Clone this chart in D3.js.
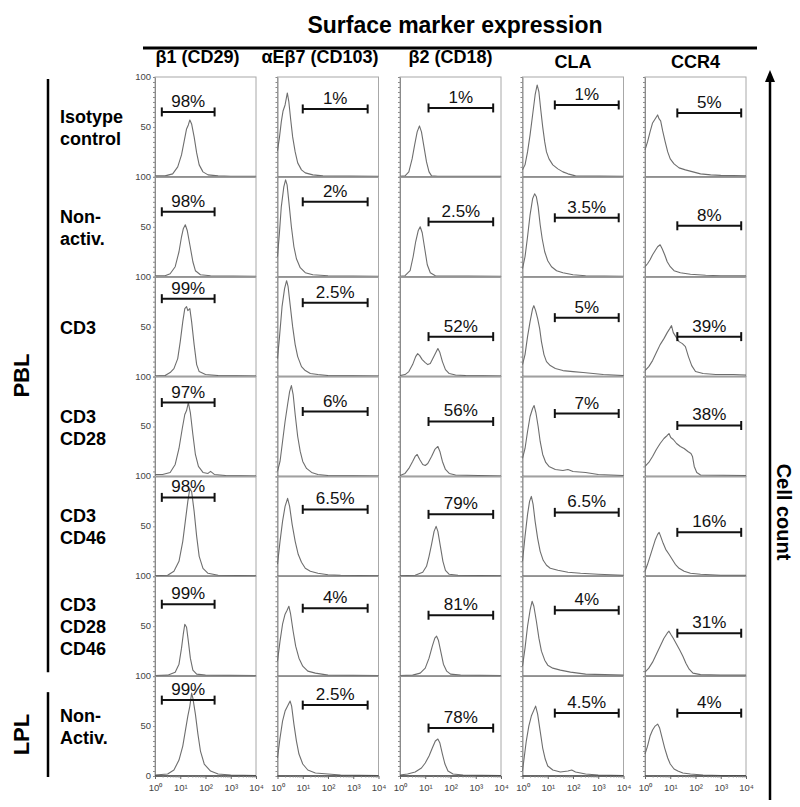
<!DOCTYPE html>
<html lang="en">
<head>
<meta charset="UTF-8">
<title>Surface marker expression</title>
<script src="https://cdn.jsdelivr.net/npm/d3@7"></script>
<style>
  body { margin: 0; background: #fff; }
  svg { font-family: "Liberation Sans", Arial, sans-serif; }
</style>
</head>
<body>
<script>
var width = 800, height = 807;

// column headers and row labels
var markers = ["β1 (CD29)", "αEβ7 (CD103)", "β2 (CD18)", "CLA", "CCR4"];
var conditions = [["Isotype", "control"], ["Non-", "activ."], ["CD3"], ["CD3", "CD28"],
                  ["CD3", "CD46"], ["CD3", "CD28", "CD46"], ["Non-", "Activ."]];
var groups = [{ name: "PBL", first: 0, last: 5 }, { name: "LPL", first: 6, last: 6 }];

var xTickLabels = ["10⁰", "10¹", "10²", "10³", "10⁴"];
var yTickLabels = [100, 50];

// percent positive in the gate, per column (rows top to bottom)
var pctB1   = ["98%", "98%", "99%", "97%", "98%", "99%", "99%"];
var pctAE   = ["1%", "2%", "2.5%", "6%", "6.5%", "4%", "2.5%"];
var pctB2   = ["1%", "2.5%", "52%", "56%", "79%", "81%", "78%"];
var pctCLA  = ["1%", "3.5%", "5%", "7%", "6.5%", "4%", "4.5%"];
var pctCCR4 = ["5%", "8%", "39%", "38%", "16%", "31%", "4%"];

// gate bar height (cell count units) per column
var gateB1   = [65, 65, 78, 74, 79, 72, 76];
var gateAE   = [68, 75, 74, 65, 67, 68, 71];
var gateB2   = [69, 55, 40, 55, 62, 61, 48];
var gateCLA  = [72, 59, 59, 63, 64, 66, 63];
var gateCCR4 = [64, 51, 40, 51, 44, 43, 63];

// gate range in log10 decades, per column
var gateRange = [[0.27, 2.36], [1.0, 3.57], [1.13, 3.69], [1.28, 3.81], [1.28, 3.81]];

// histograms: [log10 intensity, cell count]
var histB1 = [
  [[0,1],[0.4,1],[0.7,3],[0.9,10],[1.05,22],[1.15,35],[1.25,48],[1.32,52],[1.38,57],[1.45,53],[1.55,40],[1.65,24],[1.75,12],[1.9,5],[2.1,2],[2.5,1],[3,0.5],[4,0.5]],
  [[0,1],[0.4,1],[0.6,3],[0.8,10],[0.95,25],[1.05,40],[1.12,48],[1.2,52],[1.28,46],[1.38,32],[1.5,15],[1.6,6],[1.8,2],[2.2,1],[4,0.5]],
  [[0,0.5],[0.4,1],[0.6,4],[0.75,8],[0.9,18],[1.0,35],[1.1,55],[1.18,68],[1.25,70],[1.3,66],[1.38,68],[1.45,55],[1.55,32],[1.65,12],[1.75,5],[2.0,2],[2.5,1],[4,0.5]],
  [[0,2],[0.3,2],[0.6,4],[0.8,12],[0.95,28],[1.08,48],[1.18,62],[1.25,66],[1.32,74],[1.4,64],[1.5,42],[1.6,22],[1.72,10],[1.9,4],[2.1,3],[2.2,5],[2.35,2],[2.8,1],[4,0.5]],
  [[0,0.5],[0.5,1],[0.75,5],[0.95,15],[1.1,35],[1.2,55],[1.3,75],[1.38,88],[1.45,85],[1.55,65],[1.65,40],[1.75,20],[1.9,8],[2.1,3],[2.5,1],[4,0.5]],
  [[0,0.5],[0.5,1],[0.8,4],[0.95,12],[1.05,28],[1.12,42],[1.18,52],[1.25,49],[1.32,35],[1.4,18],[1.5,6],[1.65,2],[2,1],[4,0.5]],
  [[0,1],[0.5,2],[0.75,6],[0.95,16],[1.1,30],[1.2,45],[1.3,60],[1.38,70],[1.45,83],[1.5,78],[1.6,62],[1.7,42],[1.8,25],[1.95,12],[2.2,5],[2.5,2],[3,1],[4,0.5]]
];
var histAE = [
  [[0,26],[0.08,40],[0.15,55],[0.22,66],[0.3,72],[0.39,84],[0.45,75],[0.52,58],[0.6,40],[0.7,25],[0.8,14],[0.95,7],[1.1,4],[1.4,2],[1.8,1],[4,0.5]],
  [[0,20],[0.08,45],[0.15,70],[0.25,90],[0.32,97],[0.38,92],[0.45,75],[0.55,50],[0.65,30],[0.75,18],[0.9,9],[1.1,4],[1.4,2],[2,1],[4,0.5]],
  [[0,18],[0.08,40],[0.18,70],[0.28,88],[0.36,96],[0.42,90],[0.5,72],[0.6,50],[0.7,32],[0.8,20],[0.95,10],[1.1,6],[1.3,3],[1.6,2],[2,1],[4,0.5]],
  [[0,5],[0.1,15],[0.2,35],[0.3,55],[0.4,72],[0.48,85],[0.55,91],[0.62,82],[0.7,62],[0.8,40],[0.9,25],[1.0,15],[1.15,8],[1.35,4],[1.6,2],[2,1],[4,0.5]],
  [[0,12],[0.1,35],[0.2,55],[0.3,70],[0.4,78],[0.48,70],[0.58,52],[0.7,35],[0.82,22],[0.95,14],[1.1,8],[1.3,5],[1.6,3],[2,1.5],[2.5,1],[4,0.5]],
  [[0,15],[0.1,35],[0.2,52],[0.3,62],[0.38,66],[0.45,70],[0.52,62],[0.62,45],[0.72,30],[0.85,18],[1.0,10],[1.2,5],[1.5,3],[2,1],[4,0.5]],
  [[0,18],[0.1,38],[0.2,55],[0.3,65],[0.4,70],[0.5,75],[0.56,70],[0.65,52],[0.75,35],[0.85,22],[1.0,12],[1.2,6],[1.5,3],[2,2],[2.5,1],[4,0.5]]
];
var histB2 = [
  [[0,0.5],[0.2,1],[0.35,5],[0.48,18],[0.58,32],[0.68,45],[0.77,51],[0.85,45],[0.95,30],[1.05,15],[1.15,5],[1.25,1],[1.5,0.5],[4,0.5]],
  [[0,0.5],[0.2,1],[0.4,6],[0.52,20],[0.62,35],[0.72,46],[0.8,50],[0.88,44],[0.98,28],[1.08,12],[1.2,4],[1.4,1],[4,0.5]],
  [[0,1],[0.2,2],[0.35,5],[0.5,12],[0.62,20],[0.7,23],[0.78,21],[0.88,17],[1.0,14],[1.1,12],[1.2,13],[1.3,18],[1.42,24],[1.5,28],[1.58,24],[1.68,15],[1.8,7],[1.95,3],[2.2,1.5],[2.6,1],[4,0.5]],
  [[0,1],[0.2,3],[0.35,8],[0.5,15],[0.6,20],[0.68,22],[0.78,17],[0.9,12],[1.0,11],[1.1,13],[1.25,20],[1.38,27],[1.5,30],[1.58,25],[1.68,15],[1.8,7],[1.95,3],[2.2,1.5],[4,0.5]],
  [[0,0.5],[0.6,1],[0.9,4],[1.05,10],[1.15,20],[1.25,32],[1.35,45],[1.43,50],[1.5,45],[1.6,30],[1.7,15],[1.8,6],[1.95,2],[2.3,1],[4,0.5]],
  [[0,0.5],[0.5,1],[0.8,3],[1.0,8],[1.15,18],[1.28,30],[1.38,38],[1.45,40],[1.52,36],[1.62,24],[1.72,12],[1.85,5],[2.0,2],[2.4,1],[4,0.5]],
  [[0,1],[0.3,2],[0.6,4],[0.85,8],[1.0,13],[1.15,20],[1.28,28],[1.4,35],[1.5,37],[1.58,33],[1.68,22],[1.78,12],[1.9,5],[2.1,2],[2.5,1],[4,0.5]]
];
var histCLA = [
  [[0,7],[0.1,12],[0.2,25],[0.3,42],[0.4,62],[0.5,82],[0.58,92],[0.65,85],[0.72,68],[0.8,50],[0.88,35],[0.95,25],[1.05,18],[1.2,12],[1.4,8],[1.6,5],[1.8,3],[2.1,1],[4,0.5]],
  [[0,8],[0.1,20],[0.2,40],[0.3,62],[0.4,78],[0.48,83],[0.55,80],[0.62,70],[0.7,52],[0.78,38],[0.88,25],[1.0,16],[1.15,10],[1.35,6],[1.6,4],[2.0,2],[2.5,1],[4,0.5]],
  [[0,12],[0.1,22],[0.2,40],[0.3,55],[0.4,68],[0.45,71],[0.52,66],[0.6,58],[0.68,48],[0.75,35],[0.85,22],[0.95,15],[1.1,11],[1.3,8],[1.6,6],[2.0,5],[2.4,4],[2.8,3],[3.2,2],[4,1]],
  [[0,18],[0.1,28],[0.2,45],[0.3,60],[0.4,68],[0.46,71],[0.53,64],[0.62,50],[0.7,35],[0.8,22],[0.92,14],[1.05,10],[1.3,7],[1.6,6],[1.8,7],[2.0,5],[2.5,4],[3,2],[4,1]],
  [[0,15],[0.1,40],[0.2,62],[0.28,75],[0.35,80],[0.42,72],[0.5,55],[0.6,38],[0.7,25],[0.82,16],[0.95,11],[1.1,8],[1.4,6],[1.8,4],[2.3,3],[3,2],[4,1]],
  [[0,10],[0.1,28],[0.2,50],[0.3,66],[0.38,75],[0.45,70],[0.55,55],[0.65,38],[0.75,25],[0.88,16],[1.0,11],[1.2,8],[1.5,6],[1.9,4],[2.5,2],[4,1]],
  [[0,5],[0.05,15],[0.15,35],[0.25,50],[0.35,60],[0.45,66],[0.52,70],[0.6,62],[0.7,45],[0.8,28],[0.9,17],[1.0,10],[1.2,6],[1.5,4],[1.8,5],[1.95,6],[2.1,4],[2.5,2],[3,1],[4,0.5]]
];
var histCCR4 = [
  [[0,27],[0.1,35],[0.2,45],[0.3,54],[0.4,58],[0.5,62],[0.56,58],[0.62,56],[0.7,46],[0.8,35],[0.9,25],[1.0,18],[1.15,13],[1.35,9],[1.6,7],[1.9,5],[2.2,3],[2.6,2],[3,1.5],[4,1]],
  [[0,10],[0.1,13],[0.2,17],[0.3,22],[0.4,26],[0.5,30],[0.6,32],[0.68,28],[0.78,22],[0.88,15],[1.0,10],[1.15,6],[1.4,4],[1.8,2.5],[2.4,1.5],[3,1],[4,1]],
  [[0,6],[0.15,10],[0.3,16],[0.45,24],[0.6,32],[0.75,38],[0.88,44],[0.98,48],[1.05,51],[1.12,44],[1.22,40],[1.35,35],[1.48,33],[1.6,30],[1.72,20],[1.85,11],[2.0,5],[2.3,3],[2.8,2],[3.5,2],[4,1.5]],
  [[0,10],[0.15,14],[0.3,20],[0.45,27],[0.6,33],[0.75,38],[0.88,41],[0.95,43],[1.02,39],[1.12,37],[1.25,33],[1.4,30],[1.55,28],[1.7,25],[1.82,23],[1.88,20],[1.95,10],[2.05,4],[2.2,1.5],[4,1]],
  [[0,5],[0.1,12],[0.2,20],[0.3,28],[0.4,36],[0.5,42],[0.56,44],[0.62,40],[0.72,33],[0.82,27],[0.95,22],[1.05,18],[1.2,12],[1.35,8],[1.55,5],[1.8,3],[2.2,2],[3,1],[4,1]],
  [[0,4],[0.15,8],[0.3,14],[0.45,22],[0.6,30],[0.75,38],[0.88,43],[0.95,45],[1.02,42],[1.12,38],[1.25,32],[1.38,26],[1.5,20],[1.62,13],[1.75,7],[1.9,3],[2.2,1.5],[3,1],[4,1]],
  [[0,22],[0.1,30],[0.2,40],[0.3,46],[0.4,50],[0.5,52],[0.58,48],[0.68,38],[0.78,28],[0.9,18],[1.0,12],[1.15,7],[1.3,5],[1.5,3],[1.8,2],[2.3,1],[3,0.5],[4,0.5]]
];

var hists = [histB1, histAE, histB2, histCLA, histCCR4];
var pcts = [pctB1, pctAE, pctB2, pctCLA, pctCCR4];
var gates = [gateB1, gateAE, gateB2, gateCLA, gateCCR4];

var svg = d3.select("body").append("svg")
  .attr("width", width)
  .attr("height", height);

var colScale = d3.scaleBand().domain(d3.range(markers.length)).range([155, 746]).paddingInner(0.1755);
var rowScale = d3.scaleBand().domain(d3.range(conditions.length)).range([77, 776]);
var pw = colScale.bandwidth(), ph = rowScale.bandwidth();

var x = d3.scaleLinear().domain([0, 4]).range([0, pw]);
var y = d3.scaleLinear().domain([0, 100]).range([ph, 0]);
var line = d3.line().x(function(d) { return x(d[0]); }).y(function(d) { return y(d[1]); });

// one entry per panel
var panels = [];
markers.forEach(function(m, c) {
  conditions.forEach(function(cond, r) {
    panels.push({ c: c, r: r, hist: hists[c][r], pct: pcts[c][r], gate: gates[c][r], range: gateRange[c] });
  });
});

var panel = svg.selectAll("g.panel")
  .data(panels)
  .enter()
  .append("g")
  .attr("class", "panel")
  .attr("transform", function(d) { return "translate(" + colScale(d.c) + "," + rowScale(d.r) + ")"; });

panel.append("rect")
  .attr("width", pw)
  .attr("height", ph)
  .attr("fill", "none")
  .attr("stroke", "#a8a8a8")
  .attr("stroke-width", 1);

// left axis minor ticks
panel.each(function(d) {
  var g = d3.select(this).append("g")
    .call(d3.axisLeft(y).tickValues(d3.range(0, 101, 5)).tickSize(2).tickSizeOuter(0).tickFormat(""));
  g.selectAll("path, line").attr("stroke", "#8a8a8a");
});

panel.append("path")
  .attr("d", function(d) { return line(d.hist); })
  .attr("fill", "none")
  .attr("stroke", "#6e6e6e")
  .attr("stroke-width", 1.1)
  .attr("stroke-linejoin", "round");

panel.append("line")
  .attr("x1", 0).attr("x2", pw)
  .attr("y1", ph).attr("y2", ph)
  .attr("stroke", "#444")
  .attr("stroke-width", 1.4);

// gate bars
panel.append("line")
  .attr("x1", function(d) { return x(d.range[0]); })
  .attr("x2", function(d) { return x(d.range[1]); })
  .attr("y1", function(d) { return y(d.gate); })
  .attr("y2", function(d) { return y(d.gate); })
  .attr("stroke", "#111")
  .attr("stroke-width", 2);
[0, 1].forEach(function(k) {
  panel.append("line")
    .attr("x1", function(d) { return x(d.range[k]); })
    .attr("x2", function(d) { return x(d.range[k]); })
    .attr("y1", function(d) { return y(d.gate) - 4.5; })
    .attr("y2", function(d) { return y(d.gate) + 4.5; })
    .attr("stroke", "#111")
    .attr("stroke-width", 2);
});
panel.append("text")
  .attr("x", function(d) { return (x(d.range[0]) + x(d.range[1])) / 2; })
  .attr("y", function(d) { return y(d.gate) - 5; })
  .attr("text-anchor", "middle")
  .attr("font-size", 17)
  .attr("fill", "#111")
  .text(function(d) { return d.pct; });

// y tick labels on first column
panel.filter(function(d) { return d.c === 0; })
  .each(function(d) {
    var vals = d.r === conditions.length - 1 ? yTickLabels.concat([0]) : yTickLabels;
    d3.select(this).selectAll("text.ytick")
      .data(vals)
      .enter()
      .append("text")
      .attr("class", "ytick")
      .attr("x", -4)
      .attr("y", function(v) { return y(v) + 3; })
      .attr("text-anchor", "end")
      .attr("font-size", 9.5)
      .attr("fill", "#444")
      .text(function(v) { return v; });
  });

// x axis on bottom row
var minorTicks = [];
for (var dec = 0; dec < 4; dec++) {
  for (var k = 2; k < 10; k++) minorTicks.push(dec + Math.log10(k));
}
panel.filter(function(d) { return d.r === conditions.length - 1; })
  .each(function(d) {
    var g = d3.select(this).append("g").attr("transform", "translate(0," + ph + ")");
    g.call(d3.axisBottom(x).tickValues([0, 1, 2, 3, 4]).tickSize(3).tickSizeOuter(0)
      .tickFormat(function(v) { return xTickLabels[v]; }));
    g.selectAll("path").remove();
    g.selectAll("line").attr("stroke", "#666");
    g.selectAll("text").attr("font-size", 9.5).attr("fill", "#444")
      .attr("font-family", "Liberation Sans, Arial, sans-serif").attr("dy", "0.9em");
    var gm = d3.select(this).append("g").attr("transform", "translate(0," + ph + ")");
    gm.call(d3.axisBottom(x).tickValues(minorTicks).tickSize(1.5).tickSizeOuter(0).tickFormat(""));
    gm.selectAll("path").remove();
    gm.selectAll("line").attr("stroke", "#888");
  });

// title and headers
svg.append("text")
  .attr("x", 455)
  .attr("y", 33)
  .attr("text-anchor", "middle")
  .attr("font-size", 24)
  .attr("font-weight", "bold")
  .attr("textLength", 295)
  .attr("lengthAdjust", "spacingAndGlyphs")
  .text("Surface marker expression");

svg.append("line")
  .attr("x1", 143).attr("x2", 757)
  .attr("y1", 48).attr("y2", 48)
  .attr("stroke", "#000")
  .attr("stroke-width", 3);

svg.selectAll("text.header")
  .data(markers)
  .enter()
  .append("text")
  .attr("class", "header")
  .attr("x", function(d, i) { return colScale(i) + pw / 2 - (i < 2 ? 8 : 0); })
  .attr("y", function(d) { return d.indexOf("(") < 0 ? 68 : 63; })
  .attr("text-anchor", "middle")
  .attr("font-size", 18)
  .attr("font-weight", "bold")
  .text(function(d) { return d; });

// row labels
svg.selectAll("text.rowlabel")
  .data(conditions)
  .enter()
  .append("text")
  .attr("class", "rowlabel")
  .attr("font-size", 18)
  .attr("font-weight", "bold")
  .each(function(d, i) {
    var cy = rowScale(i) + ph / 2 - (d.length - 1) * 11 + 7;
    d3.select(this).selectAll("tspan")
      .data(d)
      .enter()
      .append("tspan")
      .attr("x", 60)
      .attr("y", function(t, j) { return cy + j * 22; })
      .text(function(t) { return t; });
  });

// group brackets
groups.forEach(function(gr, i) {
  var top = rowScale(gr.first) + (i === 0 ? 2 : 16);
  var bot = rowScale(gr.last) + ph + (i === 0 ? -4 : 1);
  svg.append("line")
    .attr("x1", 48).attr("x2", 48)
    .attr("y1", top).attr("y2", bot)
    .attr("stroke", "#000")
    .attr("stroke-width", 2.5);
  svg.append("text")
    .attr("transform", "translate(28.5," + ((top + bot) / 2) + ") rotate(-90)")
    .attr("text-anchor", "middle")
    .attr("font-size", 22)
    .attr("font-weight", "bold")
    .text(gr.name);
});

// cell count arrow
svg.append("line")
  .attr("x1", 770).attr("x2", 770)
  .attr("y1", 800).attr("y2", 80)
  .attr("stroke", "#000")
  .attr("stroke-width", 2.5);
svg.append("path")
  .attr("d", "M770,70 L765,82 L775,82 Z")
  .attr("fill", "#000");
svg.append("text")
  .attr("transform", "translate(777,512) rotate(90)")
  .attr("text-anchor", "middle")
  .attr("font-size", 20)
  .attr("font-weight", "bold")
  .text("Cell count");
</script>
</body>
</html>
